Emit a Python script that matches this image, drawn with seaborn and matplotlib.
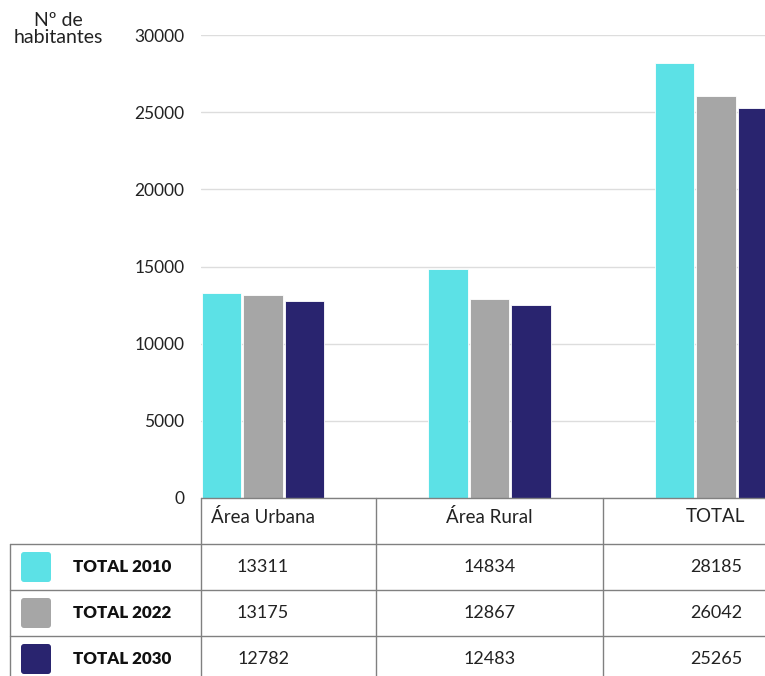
import pandas as pd
import seaborn as sns
import matplotlib.pyplot as plt
from matplotlib.patches import FancyBboxPatch
from matplotlib.transforms import blended_transform_factory

# data
categories = ["Área Urbana", "Área Rural", "TOTAL"]
series = ["TOTAL 2010", "TOTAL 2022", "TOTAL 2030"]
v2010 = [13311, 14834, 28185]
v2022 = [13175, 12867, 26042]
v2030 = [12782, 12483, 25265]
yticks = [0, 5000, 10000, 15000, 20000, 25000, 30000]
colors = ["#5CE1E6", "#A6A6A6", "#29246F"]

rows = []
for s, vals in zip(series, [v2010, v2022, v2030]):
    for c, v in zip(categories, vals):
        rows.append({"cat": c, "serie": s, "val": v})
df = pd.DataFrame(rows)

sns.set_style("white")
plt.rcParams["font.family"] = ["Lato", "DejaVu Sans"]

W, H = 765, 676
fig = plt.figure(figsize=(W / 100, H / 100), dpi=100)
ax = fig.add_axes([201 / W, (H - 498) / H, (W - 201) / W, (498 - 35) / H])

sns.barplot(data=df, x="cat", y="val", hue="serie", order=categories,
            hue_order=series, palette=colors, saturation=1, width=0.55, gap=0.05,
            edgecolor="white", linewidth=0.6, legend=False, ax=ax, zorder=3)

ax.set_xlim(-0.274, 2.217)
ax.set_ylim(0, 30000)
ax.set_yticks(yticks)
ax.set_yticklabels([str(t) for t in yticks], fontsize=12.5, color="#222222")
ax.tick_params(axis="y", length=0, pad=12)
ax.set_xticks([])
ax.set_xlabel("")
ax.set_ylabel("")
ax.grid(axis="y", color="#DDDDDD", linewidth=1, zorder=0)
for sp in ax.spines.values():
    sp.set_visible(False)

fig.text(58 / W, 1 - 29 / H, "Nº de\nhabitantes", ha="center", va="center",
         fontsize=14, color="#222222", linespacing=1.05)

# data table below the chart
tab = fig.add_axes([0, 0, 1, 1], zorder=5)
tab.set_xlim(0, W)
tab.set_ylim(H, 0)
tab.axis("off")
tab.patch.set_alpha(0)
bt = blended_transform_factory(ax.transData, tab.transData)
x0, x1 = ax.get_xlim()
line_kw = dict(color="#808080", linewidth=1)

row_top = [498, 544, 590, 636]
row_h = 46
tab.plot([x0, x1], [498, 498], transform=bt, **line_kw)
for y in row_top[1:]:
    tab.plot([10, W], [y, y], **line_kw)
for xb in [x0, 0.5, 1.5]:
    tab.plot([xb, xb], [498, H], transform=bt, **line_kw)
tab.plot([10, 10], [544, H], **line_kw)

for i, c in enumerate(categories):
    tab.text(i, 498 + row_h / 2 - 4, c, transform=bt, ha="center", va="center",
             fontsize=13.5, color="#222222")

for r, (s, vals, col) in enumerate(zip(series, [v2010, v2022, v2030], colors)):
    yc = row_top[r + 1] + row_h / 2
    tab.add_patch(FancyBboxPatch((21, yc - 15), 30, 30,
                                 boxstyle="round,pad=0,rounding_size=3",
                                 facecolor=col, edgecolor="none"))
    tab.text(73, yc, s, ha="left", va="center", fontsize=12.2,
             fontweight="heavy", color="#111111")
    for i, v in enumerate(vals):
        tab.text(i, yc, str(v), transform=bt, ha="center", va="center",
                 fontsize=13, color="#222222")

fig.savefig("out.png", dpi=100)
